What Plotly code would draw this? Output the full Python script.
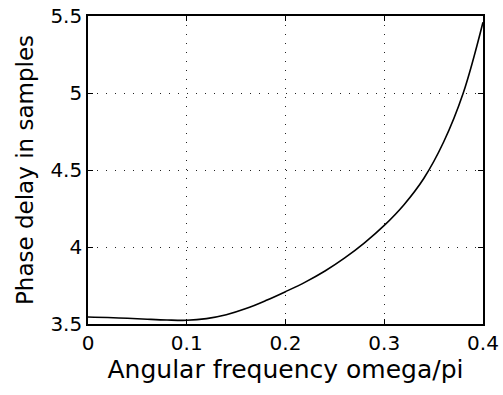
import plotly.graph_objects as go

omega = [0, 0.02, 0.04, 0.06, 0.08, 0.1, 0.12, 0.14, 0.16, 0.18, 0.2,
         0.22, 0.24, 0.26, 0.28, 0.3, 0.32, 0.34, 0.36, 0.38, 0.4]
delay = [3.545, 3.542, 3.537, 3.531, 3.526, 3.524, 3.535, 3.56, 3.60, 3.652, 3.71,
         3.772, 3.844, 3.929, 4.027, 4.14, 4.275, 4.445, 4.68, 5.0, 5.46]
xticks = [0, 0.1, 0.2, 0.3, 0.4]
yticks = [3.5, 4, 4.5, 5, 5.5]

fig = go.Figure()
fig.add_trace(go.Scatter(x=omega, y=delay, mode="lines",
                         line=dict(color="black", width=1.6, shape="spline", smoothing=1)))

font = dict(family="DejaVu Sans, sans-serif", color="black")
axis_common = dict(showline=True, linecolor="black", linewidth=1.6, mirror="allticks",
                   ticks="inside", ticklen=5, tickcolor="black", tickwidth=1,
                   showgrid=True, gridcolor="#222", griddash="1px,8px", gridwidth=1.2,
                   zeroline=False, automargin=False, tickfont=dict(size=20, **font))
fig.update_xaxes(range=[0, 0.4], tickvals=xticks, ticktext=[f"{v:g}" for v in xticks],
                 title=dict(text="Angular frequency omega/pi", font=dict(size=25, **font), standoff=0),
                 **axis_common)
fig.update_yaxes(range=[3.5, 5.5], tickvals=yticks, ticktext=[f"{v:g}" for v in yticks],
                 title=dict(text="Phase delay in samples", font=dict(size=23, **font), standoff=10),
                 **axis_common)
fig.update_layout(width=503, height=395, margin=dict(l=88, r=20, t=16, b=71),
                  plot_bgcolor="white", paper_bgcolor="white", showlegend=False)
fig.write_html("out.html")
